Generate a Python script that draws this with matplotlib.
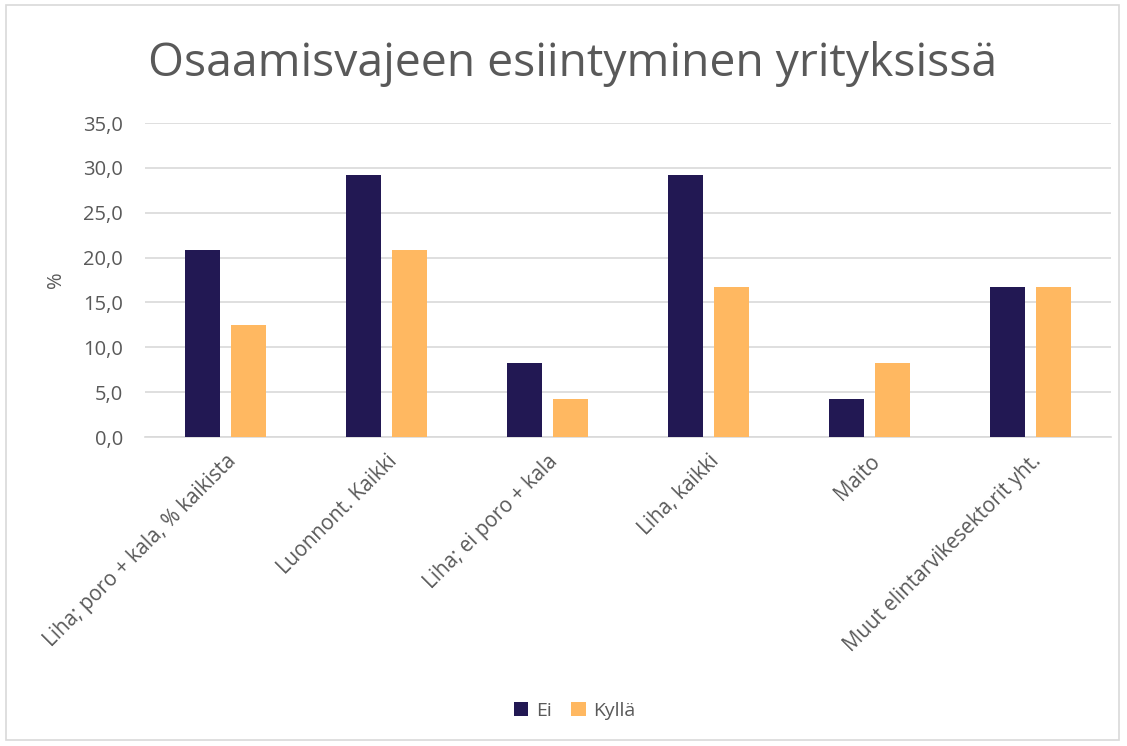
import numpy as np
import matplotlib
matplotlib.use("Agg")
import matplotlib.pyplot as plt
from matplotlib.patches import Rectangle

# ── Data ──────────────────────────────────────────────────
categories = ["Liha; poro + kala, % kaikista", "Luonnont. Kaikki",
              "Liha; ei poro + kala", "Liha, kaikki", "Maito",
              "Muut elintarvikesektorit yht."]
ei    = [20.8, 29.2, 8.3, 29.2, 4.2, 16.7]
kylla = [12.5, 20.8, 4.2, 16.7, 8.3, 16.7]
yticks = [0, 5, 10, 15, 20, 25, 30, 35]

plt.rcParams["font.family"] = ["Open Sans", "DejaVu Sans"]
TXT = "#595959"

fig = plt.figure(figsize=(11.27, 7.46), dpi=100)
ax = fig.add_axes([0.1287, 0.4142, 0.8571, 0.4209])

x = np.arange(len(categories))
w = 0.217
ax.bar(x - 0.143, ei, w, color="#221853", label="Ei", zorder=3)
ax.bar(x + 0.143, kylla, w, color="#FFB861", label="Kyllä", zorder=3)

ax.set_xlim(-0.5, len(categories) - 0.5)
ax.set_ylim(0, 35)
ax.set_yticks(yticks)
ax.set_yticklabels([f"{v:.1f}".replace(".", ",") for v in yticks],
                   fontsize=14.5, color=TXT)
ax.yaxis.grid(True, color="#d9d9d9", lw=1.2, zorder=0)
ax.set_xticks(x)
ax.set_xticklabels(categories, rotation=45, ha="right", rotation_mode="anchor",
                   fontsize=14.8, color=TXT)
ax.tick_params(length=0)
ax.tick_params(axis="y", pad=16)
ax.tick_params(axis="x", pad=10)
for s in ["top", "right", "left"]:
    ax.spines[s].set_visible(False)
ax.spines["bottom"].set_color("#d9d9d9")
ax.spines["bottom"].set_linewidth(1.2)
ax.set_ylabel("%", fontsize=14.5, color=TXT, labelpad=12)

fig.text(0.508, 0.914, "Osaamisvajeen esiintyminen yrityksissä",
         ha="center", va="center", fontsize=33.3, color=TXT)

fig.legend(loc="center", bbox_to_anchor=(0.51, 0.047), ncol=2, frameon=False,
           fontsize=14, labelcolor=TXT, handlelength=0.75, handleheight=0.75,
           handletextpad=0.4, columnspacing=1.0)

fig.patches.append(Rectangle((0.005, 0.008), 0.988, 0.985, transform=fig.transFigure,
                             fill=False, edgecolor="#d9d9d9", lw=1.2))

fig.savefig("out.png", dpi=100, facecolor="white")
